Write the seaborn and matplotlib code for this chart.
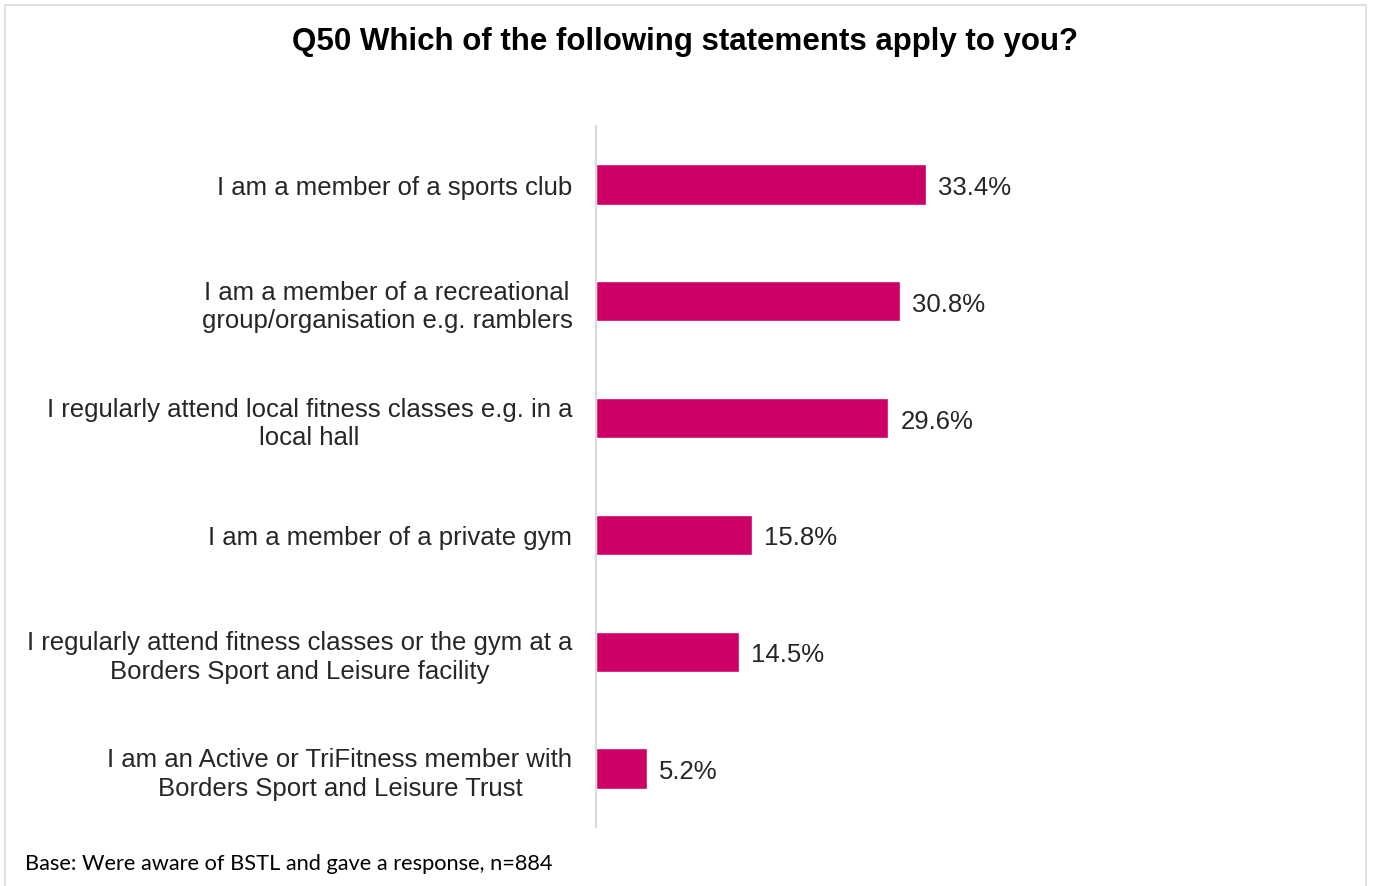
import matplotlib.pyplot as plt
import seaborn as sns
import pandas as pd
from matplotlib.patches import Rectangle

statements = [
    "I am a member of a sports club",
    "I am a member of a recreational\ngroup/organisation e.g. ramblers",
    "I regularly attend local fitness classes e.g. in a\nlocal hall",
    "I am a member of a private gym",
    "I regularly attend fitness classes or the gym at a\nBorders Sport and Leisure facility",
    "I am an Active or TriFitness member with\nBorders Sport and Leisure Trust",
]
percents = [33.4, 30.8, 29.6, 15.8, 14.5, 5.2]

bar_color = "#CC0066"

sns.set_theme(style="white")
plt.rcParams['font.family'] = ['Liberation Sans', 'DejaVu Sans']

df = pd.DataFrame({'statement': statements, 'pct': percents})

fig = plt.figure(figsize=(13.73, 8.87), dpi=100)
ax = fig.add_axes([596 / 1373, 1 - 828 / 887, 741 / 1373, 701 / 887])

sns.barplot(data=df, x='pct', y='statement', color=bar_color, width=0.345,
            saturation=1, ax=ax, orient='h')

for i, v in enumerate(percents):
    ax.text(v + 1.2, i, f"{v}%", va='center_baseline', ha='left', fontsize=18.5, color='#262626')

ax.set_xlim(0, 75)
ax.set_ylim(5.5, -0.5)
ax.set_xlabel('')
ax.set_ylabel('')
ax.set_xticks([])
ax.tick_params(axis='y', length=0, pad=17, labelsize=18.5, labelcolor='#262626')
for lbl in ax.get_yticklabels():
    lbl.set_multialignment('center')
    lbl.set_linespacing(1.25)

for side in ['top', 'right', 'bottom']:
    ax.spines[side].set_visible(False)
ax.spines['left'].set_color('#D9D9D9')
ax.spines['left'].set_linewidth(1.5)

fig.text(685 / 1373, 1 - 42 / 887, "Q50 Which of the following statements apply to you?",
         ha='center', va='center', fontsize=22.5, fontweight='bold', color='black')
fig.text(25 / 1373, 1 - 864 / 887, "Base: Were aware of BSTL and gave a response, n=884",
         ha='left', va='center', fontsize=15.7, family=['Lato', 'DejaVu Sans'], color='black')

fig.patches.append(Rectangle((5 / 1373, -0.01), 1361 / 1373, 1.01 - 6 / 887,
                             transform=fig.transFigure, fill=False,
                             edgecolor='#D9D9D9', linewidth=1.2))

fig.savefig('out.png', dpi=100, facecolor='white')
